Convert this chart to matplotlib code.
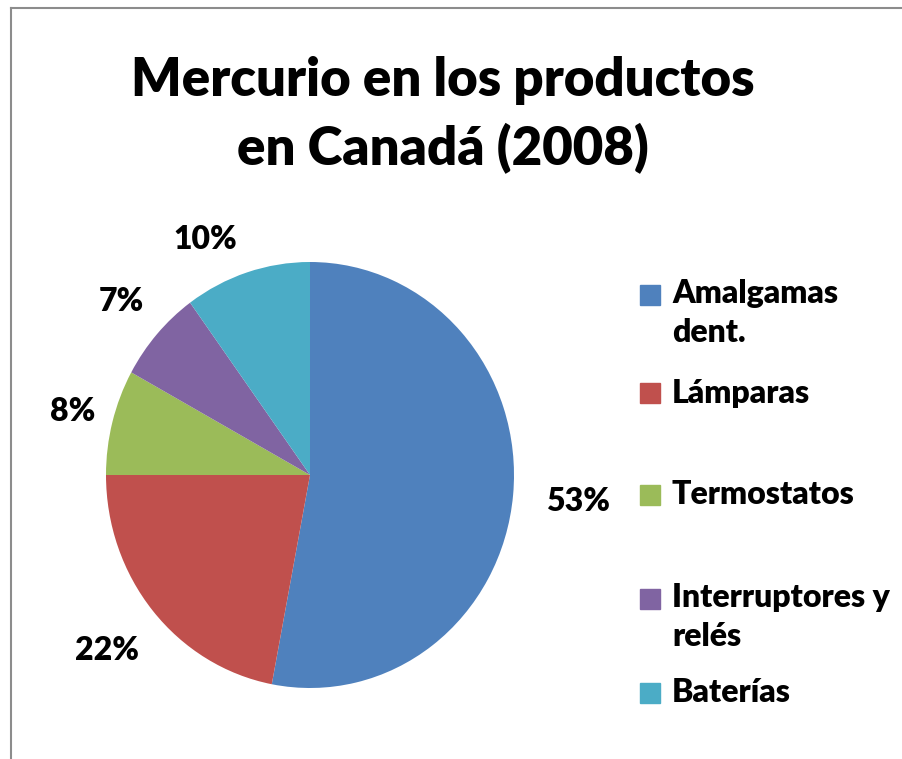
import matplotlib.pyplot as plt
from matplotlib.lines import Line2D
from matplotlib.patches import Rectangle
import numpy as np

plt.rcParams['font.family'] = ['Lato', 'DejaVu Sans']

categories = ['Amalgamas\ndent.', 'Lámparas', 'Termostatos', 'Interruptores y\nrelés', 'Baterías']
values = [53, 22, 8, 7, 10]
colors = ['#4F81BD', '#C0504D', '#9BBB59', '#8064A2', '#4BACC6']

W, H = 903, 759
fig = plt.figure(figsize=(W / 100, H / 100), dpi=100)

# chart frame (cropped on right and bottom)
fig.add_artist(Line2D([11 / W, 11 / W], [-0.01, 1 - 8 / H], color='#8c8c8c', lw=1.5))
fig.add_artist(Line2D([11 / W, 1.01], [1 - 8 / H, 1 - 8 / H], color='#8c8c8c', lw=1.5))

fig.text(443 / W, 1 - 115 / H, 'Mercurio en los productos\nen Canadá (2008)',
         ha='center', va='center', fontsize=38, fontweight='heavy', linespacing=1.45)

# pie: center (310, 475) px, rx 204, ry 213
ax = fig.add_axes([106 / W, (759 - 475 - 213) / H, 408 / W, 426 / H])
wedges, _ = ax.pie(values, colors=colors, startangle=90, counterclock=False,
                   wedgeprops=dict(linewidth=0))
ax.set_xlim(-1, 1)
ax.set_ylim(-1, 1)
ax.set_aspect('auto')
ax.axis('off')

dists = [1.32, 1.29, 1.2, 1.23, 1.22]
shift = [0, 0, 0, 0, 7]
for w, v, d, s in zip(wedges, values, dists, shift):
    a = np.deg2rad((w.theta1 + w.theta2) / 2 + s)
    ax.text(d * np.cos(a), d * np.sin(a), f'{v}%', ha='center', va='center',
            fontsize=23, fontweight='heavy', clip_on=False)

# legend
leg_y = [313, 393, 495, 617, 693]
for lab, c, y in zip(categories, colors, leg_y):
    nl = lab.count('\n')
    yt = y - 18 * nl
    fig.add_artist(Rectangle((640 / W, 1 - (yt + 10) / H), 20 / W, 20 / H,
                             color=c, transform=fig.transFigure))
    fig.text(672 / W, 1 - y / H, lab, ha='left', va='center', fontsize=23,
             fontweight='heavy', linespacing=1.4)

fig.savefig('out.png', dpi=100)
